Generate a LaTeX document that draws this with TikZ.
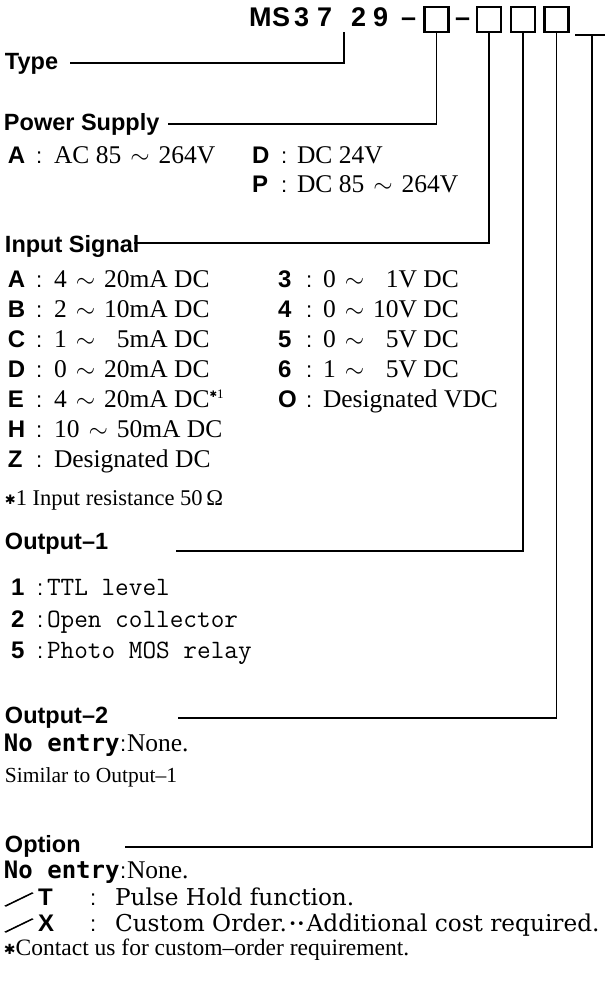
\documentclass[tikz,border=0pt]{standalone}
\usepackage{graphicx}
\usepackage{fontspec}
\setmainfont{Liberation Serif}
\newfontfamily\hdfont{Liberation Sans}
\newfontfamily\dvmono{DejaVu Sans Mono}
\newfontfamily\dvserif{DejaVu Serif}
\newfontfamily\dvsans{DejaVu Sans}
\newfontfamily\cjkbold{Noto Sans CJK JP}[FakeBold=4]
\newcommand{\fs}[1]{\fontsize{#1}{#1}\selectfont}
\newcommand{\heavyast}[1]{{\dvsans\fs{#1}\raisebox{0.5pt}{✱}}}
\newcommand{\tld}{\hspace{9pt}{\fs{29}$\sim$}\hspace{9pt}}
\newcommand{\keyrow}[7]{%
  \node[keyst] (#1k) at (#2,#5) {#6};
  \node[col] (#1c) at (#3,#5) {:};
  \node[val] (#1v) at (#4,#5) {#7};}
\tikzset{
  txt/.style={anchor=base west, inner sep=0pt, outer sep=0pt},
  hd/.style={txt, font=\hdfont\bfseries\fs{23.5}},
  keyst/.style={txt, font=\hdfont\bfseries\fs{24}},
  noentry/.style={txt, font=\dvmono\bfseries\fs{24}},
  col/.style={txt, font=\hdfont\fs{22}},
  val/.style={txt, font=\fs{25.5}},
  monoval/.style={txt, font=\ttfamily\fs{26.5}},
  note/.style={txt, font=\fs{22.5}},
  optval/.style={txt, font=\dvserif\fs{23.2}},
  titlest/.style={txt, font=\hdfont\bfseries\fs{27}},
  codebox/.style={draw, line width=2.2pt, minimum width=24pt, minimum height=25pt, inner sep=0pt},
  conn/.style={line width=1.3pt},
}
\begin{document}
\begin{tikzpicture}[x=1pt,y=-1pt]
\useasboundingbox (0,0) rectangle (605,992);
% ---------- title ----------
\node[titlest] (tM) at (249,27) {M};
\node[titlest] (tS) at (272,27) {S};
\node[titlest] (t3) at (294,27) {3};
\node[titlest] (t7) at (317,27) {7};
\node[titlest] (t2) at (351,27) {2};
\node[titlest] (t9) at (373,27) {9};
\node[titlest] (td1) at (401,27) {–};
\node[codebox] (box1) at (436.5,19.5) {};
\node[titlest] (td2) at (455,27) {–};
\node[codebox] (box2) at (489,19.5) {};
\node[codebox] (box3) at (523,19.5) {};
\node[codebox] (box4) at (556.5,19.5) {};
\coordinate (usL) at (575,35);
\coordinate (usR) at (605,35);
\coordinate (usV) at (592,35);
\draw[line width=2pt] (usL) -- (usR);
% ---------- Type ----------
\node[hd] (type) at (5,70) {Type};
\coordinate (typeS) at (70,63);
\coordinate (typeT) at (344,32);
\draw[conn] (typeS) -| (typeT);
% ---------- Power supply ----------
\node[hd] (ps) at (4,131) {Power Supply};
\coordinate (psS) at (168,124);
\draw[conn] (psS) -| (box1.south);
\keyrow{psA}{8}{36}{54}{164}{A}{AC 85\tld 264V}
\keyrow{psD}{252}{281}{297}{164}{D}{DC 24V}
\keyrow{psP}{252}{281}{297}{193}{P}{DC 85\tld 264V}
% ---------- Input signal ----------
\node[hd] (in) at (5,252) {Input Signal};
\coordinate (inS) at (134,243);
\draw[conn] (inS) -| (box2.south);
\keyrow{iA}{8}{36}{54}{287}{A}{4\tld 20mA DC}
\keyrow{iB}{8}{36}{54}{317}{B}{2\tld 10mA DC}
\keyrow{iC}{8}{36}{54}{347}{C}{1\tld \hphantom{0}5mA DC}
\keyrow{iD}{8}{36}{54}{377}{D}{0\tld 20mA DC}
\keyrow{iE}{8}{36}{54}{407}{E}{4\tld 20mA DC\raisebox{9pt}{\heavyast{9}\fs{13}1}}
\keyrow{iH}{8}{36}{54}{437}{H}{10\tld 50mA DC}
\keyrow{iZ}{8}{36}{54}{467}{Z}{Designated DC}
\keyrow{i3}{278}{306}{323}{287}{3}{0\tld \hphantom{1}1V DC}
\keyrow{i4}{278}{306}{323}{317}{4}{0\tld 10V DC}
\keyrow{i5}{278}{306}{323}{347}{5}{0\tld \hphantom{0}5V DC}
\keyrow{i6}{278}{306}{323}{377}{6}{1\tld \hphantom{0}5V DC}
\keyrow{iO}{278}{306}{323}{407}{O}{Designated VDC}
\node[note] (inNote) at (5,505) {\heavyast{13}1 Input resistance 50\,Ω};
% ---------- Output-1 ----------
\node[hd] (o1) at (5,549) {Output–1};
\coordinate (o1S) at (176,551);
\draw[conn] (o1S) -| (box3.south);
\node[keyst] (o1k1) at (11,595) {1};
\node[col] (o1c1) at (37,595) {:};
\node[monoval] (o1v1) at (47,595) {TTL level};
\node[keyst] (o1k2) at (11,627) {2};
\node[col] (o1c2) at (37,627) {:};
\node[monoval] (o1v2) at (47,627) {Open collector};
\node[keyst] (o1k5) at (11,658) {5};
\node[col] (o1c5) at (37,658) {:};
\node[monoval] (o1v5) at (47,658) {Photo MOS relay};
% ---------- Output-2 ----------
\node[hd] (o2) at (5,723) {Output–2};
\coordinate (o2S) at (178,718);
\draw[conn] (o2S) -| (box4.south);
\node[noentry] (o2ne) at (4,751) {No entry};
\node[col] (o2nec) at (120,751) {:};
\node[val] (o2nev) at (127,751) {None.};
\node[note, font=\fs{21.5}] (o2sim) at (5,782) {Similar to Output–1};
% ---------- Option ----------
\node[hd] (op) at (5,852) {Option};
\coordinate (opS) at (125,847);
\draw[conn] (opS) -| (usV);
\node[noentry] (opne) at (4,878) {No entry};
\node[col] (opnec) at (120,878) {:};
\node[val] (opnev) at (127,878) {None.};
\node[txt] (opTs) at (4,905) {\scalebox{1.36}[0.66]{\cjkbold\fs{22}／}};
\node[keyst] (opTk) at (38,905) {T};
\node[col] (opTc) at (90,905) {:};
\node[optval] (opTv) at (115,905) {Pulse Hold function.};
\node[txt] (opXs) at (4,931) {\scalebox{1.36}[0.66]{\cjkbold\fs{22}／}};
\node[keyst] (opXk) at (38,931) {X};
\node[col] (opXc) at (90,931) {:};
\node[optval] (opXv) at (115,931) {Custom Order.\hspace{2pt}\raisebox{2.5pt}{\dvsans\fs{13}•\hspace{0.5pt}•}\hspace{2pt}Additional cost required.};
\node[note, font=\fs{23.5}] (opNote) at (4,955) {\heavyast{14}Contact us for custom–order requirement.};
\end{tikzpicture}
\end{document}
